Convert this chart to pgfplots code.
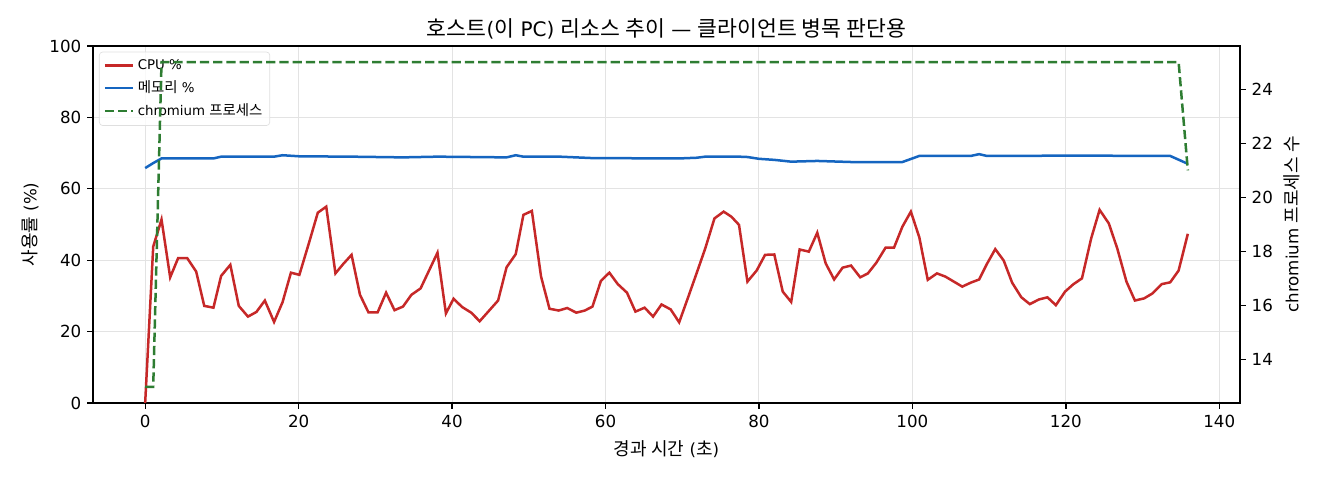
\documentclass[border=0pt]{standalone}
\usepackage{fontspec}
\setmainfont{DejaVu Sans}
\newfontfamily\kr{Noto Sans CJK KR}[Scale=1.08]
\usepackage{pgfplots}
\pgfplotsset{compat=1.18}
\definecolor{cpured}{HTML}{C62828}
\definecolor{memblue}{HTML}{1565C0}
\definecolor{chromegreen}{HTML}{2E7D32}
\begin{document}
\begin{tikzpicture}
\useasboundingbox (-55.8pt,-46.2pt) rectangle (736.2pt,241.8pt);
\pgfplotsset{
  every axis/.append style={
    scale only axis, width=688.2pt, height=214.2pt,
    xmin=-6.8, xmax=142.7,
    axis line style={line width=0.8pt},
    tick align=outside, major tick length=3.5pt,
    every tick/.style={black, line width=0.8pt},
    tick label style={font=\fontsize{10}{12}\selectfont},
    label style={font=\fontsize{10}{12}\selectfont},
    /pgf/number format/assume math mode=true,
  }
}
\begin{axis}[
  ymin=0, ymax=100,
  xtick={0,20,...,140}, ytick={0,20,...,100},
  xtick pos=bottom, ytick pos=left,
  grid=major, grid style={line width=0.6pt, gray!22},
  xlabel={{\kr 경과 시간} ({\kr 초})}, ylabel={{\kr 사용률} (\%)},
  xlabel style={at={(axis description cs:0.5,-0.13)}, anchor=center},
  ylabel style={at={(axis description cs:-0.055,0.5)}, anchor=center},
  title={{\kr 호스트}({\kr 이} PC) {\kr 리소스 추이} — {\kr 클라이언트 병목 판단용}},
  every axis title/.style={font=\fontsize{12}{14}\selectfont, at={(axis description cs:0.5,1)}, anchor=base, yshift=5.6pt},
  legend style={at={(axis description cs:0,1)}, xshift=3.6pt, yshift=-3.4pt, anchor=north west,
    draw=gray!25, rounded corners=2pt, fill=white, fill opacity=0.8, text opacity=1,
    font=\fontsize{8}{9.6}\selectfont, row sep=1.2pt, inner sep=2.5pt},
  legend cell align=left,
]
\addplot[cpured, line width=1.5pt] coordinates {
(0,0) (1.05,43.8) (2.13,51.4) (3.26,35.2) (4.3,40.6) (5.47,40.6) (6.65,36.8) (7.7,27.2) (8.9,26.7) (9.9,35.6)
(11.1,38.7) (12.2,27.2) (13.4,24.2) (14.5,25.5) (15.6,28.7) (16.8,22.7) (17.9,28.2) (19.0,36.5) (20.1,35.9) (21.4,45.2)
(22.5,53.3) (23.6,55.0) (24.8,36.3) (25.8,38.9) (26.9,41.5) (28.0,30.3) (29.1,25.4) (30.3,25.4) (31.4,30.9) (32.5,26.0)
(33.6,27.0) (34.7,30.3) (35.9,32.1) (37.0,37.1) (38.1,42.1) (39.2,25.1) (40.2,29.2) (41.3,26.9) (42.5,25.3) (43.6,22.9)
(44.8,25.8) (46.0,28.7) (47.1,38.0) (48.3,41.7) (49.3,52.7) (50.4,53.8) (51.6,35.4) (52.7,26.4) (53.9,25.9) (55.0,26.6)
(56.2,25.3) (57.3,25.9) (58.3,27.0) (59.4,34.2) (60.5,36.5) (61.6,33.3) (62.8,30.9) (63.9,25.6) (65.1,26.7) (66.2,24.2)
(67.3,27.6) (68.5,26.2) (69.6,22.6) (70.8,29.8) (71.9,36.5) (73.0,43.3) (74.2,51.7) (75.4,53.6) (76.4,52.2) (77.4,49.9)
(78.5,34.0) (79.7,37.1) (80.8,41.5) (82.0,41.6) (83.1,31.2) (84.2,28.3) (85.3,43.0) (86.5,42.4) (87.6,47.7) (88.7,39.1)
(89.8,34.6) (90.9,37.9) (92.0,38.5) (93.2,35.2) (94.2,36.3) (95.3,39.3) (96.5,43.5) (97.6,43.5) (98.7,49.4) (99.8,53.6)
(100.9,46.4) (102.0,34.5) (103.2,36.3) (104.3,35.4) (105.4,34.0) (106.5,32.6) (107.6,33.7) (108.7,34.6) (109.7,38.9) (110.8,43.1)
(111.9,39.9) (113.0,33.7) (114.2,29.6) (115.3,27.7) (116.5,29.0) (117.6,29.6) (118.7,27.4) (119.9,31.2) (121.0,33.3) (122.1,34.9)
(123.3,46.1) (124.4,54.1) (125.6,50.3) (126.7,43.3) (127.9,34.0) (129.0,28.7) (130.2,29.3) (131.3,30.7) (132.5,33.3) (133.6,33.8)
(134.7,37.1) (135.9,47.4)
};
\addlegendentry{CPU \%}
\addplot[memblue, line width=1.5pt] coordinates {
(0,65.8) (1.05,67.2) (2.13,68.5) (8.9,68.5) (9.9,69.0) (16.8,69.0) (17.9,69.4) (20.1,69.1) (26.9,69.0) (33.6,68.8)
(38.1,69.0) (47.1,68.8) (48.3,69.4) (49.3,69.0) (54.0,69.0) (58.3,68.6) (69.6,68.5) (71.9,68.7) (73.0,69.0) (77.4,69.0)
(78.5,68.9) (80.0,68.4) (82.0,68.1) (84.2,67.6) (87.6,67.8) (92.0,67.5) (98.7,67.5) (100.9,69.2) (107.6,69.2) (108.7,69.7)
(109.7,69.2) (113.0,69.2) (120.0,69.3) (133.6,69.2) (135.9,67.0)
};
\addlegendentry{{\kr 메모리} \%}
\addlegendimage{chromegreen, line width=1.5pt, dash pattern=on 5.55pt off 2.4pt}
\addlegendentry{chromium {\kr 프로세스}}
\end{axis}
\begin{axis}[
  ymin=12.4, ymax=25.6,
  ytick={14,16,...,24},
  axis x line=none, ytick pos=right,
  ylabel={chromium {\kr 프로세스 수}},
  ylabel style={at={(axis description cs:1.045,0.5)}, anchor=center},
]
\addplot[chromegreen, line width=1.5pt, dash pattern=on 5.55pt off 2.4pt] coordinates {
(0,13) (1.05,13) (2.13,25) (134.7,25) (135.9,21)
};
\end{axis}
\end{tikzpicture}
\end{document}
